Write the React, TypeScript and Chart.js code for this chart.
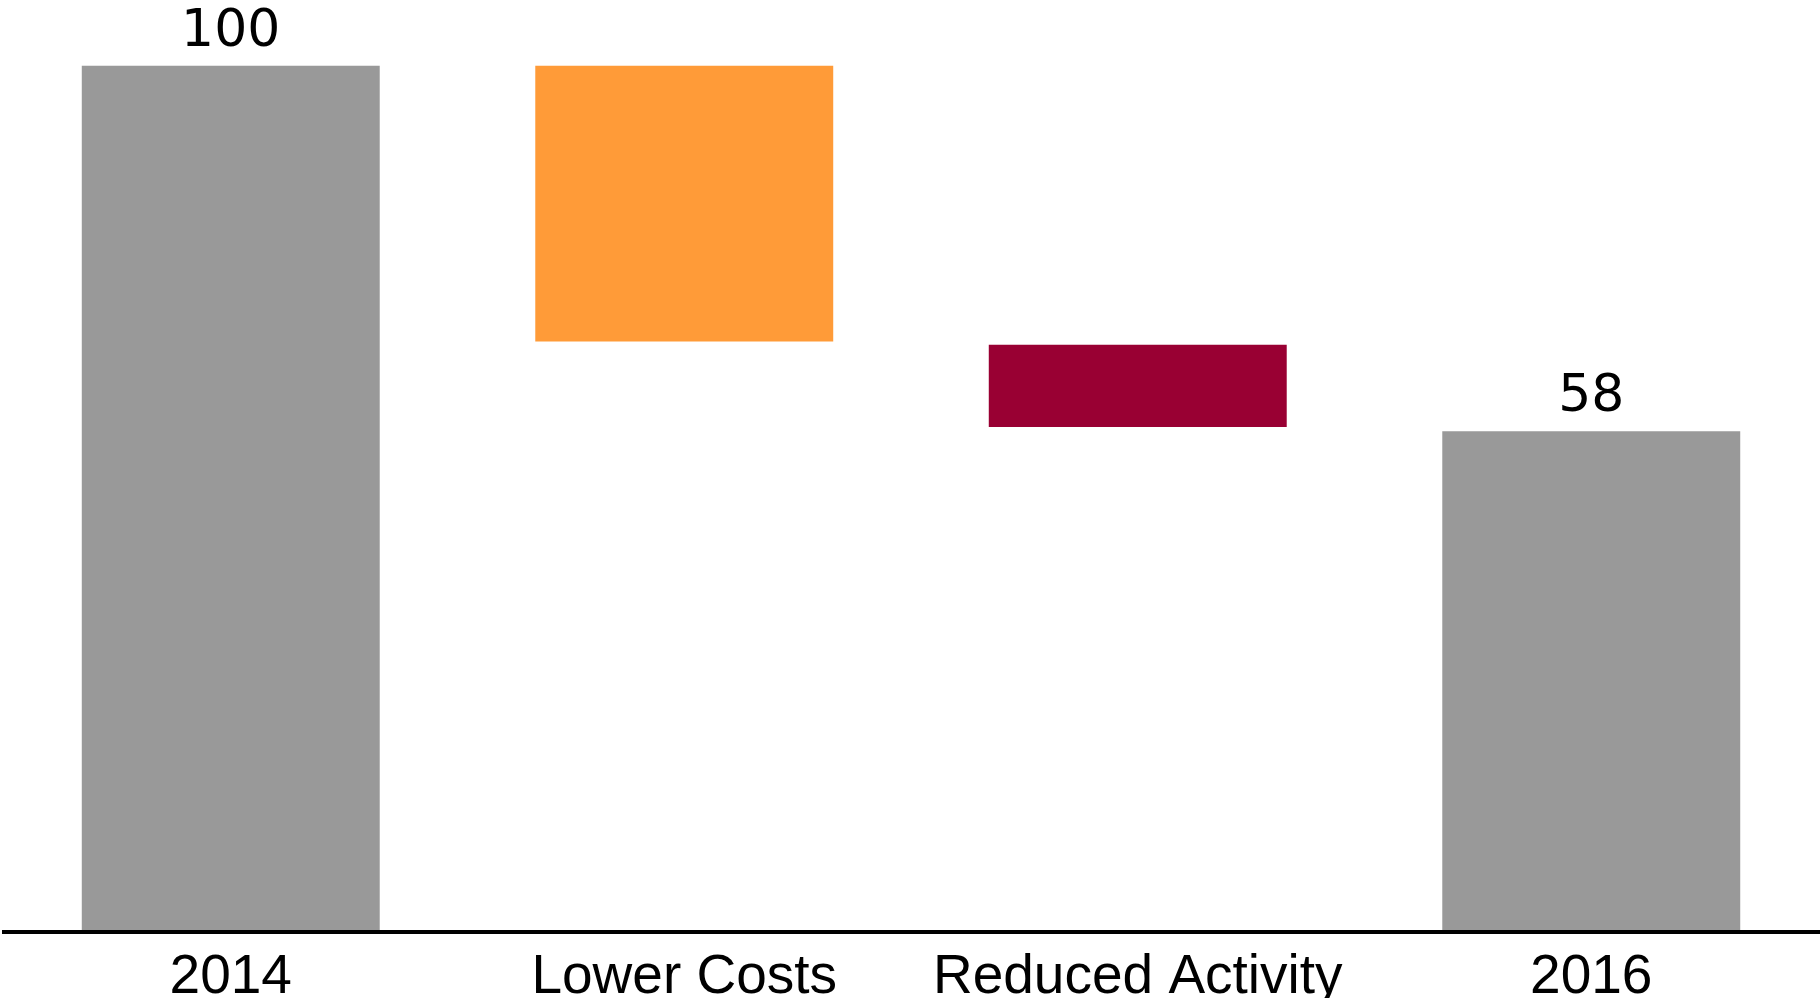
import React, { useEffect, useRef } from "react";
import { Chart, registerables } from "chart.js";

Chart.register(...registerables);

const categories = ["2014", "Lower Costs", "Reduced Activity", "2016"];
const barLows = [0, 68.1, 58.2, 0];
const barHighs = [100, 100, 67.7, 57.7];
const barKinds = ["total", "decrease", "decrease", "total"];
const barColors = ["#999999", "#FF9B38", "#990033", "#999999"];

const W = 1820;
const H = 998;

export default function App() {
  const ref = useRef<HTMLCanvasElement | null>(null);

  useEffect(() => {
    document.body.style.margin = "0";
    const canvas = ref.current;
    if (!canvas) return;

    const overlay = {
      id: "overlay",
      afterDatasetsDraw(chart: any) {
        const ctx = chart.ctx;
        const x = chart.scales.x;
        const y = chart.scales.y;
        ctx.save();
        // baseline axis
        ctx.fillStyle = "#000000";
        ctx.fillRect(2, y.getPixelForValue(0), W - 2, 4);
        // total labels
        ctx.font = "52px 'DejaVu Sans'";
        ctx.textAlign = "center";
        ctx.textBaseline = "alphabetic";
        ctx.fillStyle = "#000000";
        categories.forEach((c, i) => {
          if (barKinds[i] !== "total") return;
          const px = x.getPixelForValue(i);
          const py = y.getPixelForValue(barHighs[i]);
          ctx.fillText(String(Math.round(barHighs[i])), px, py - 20);
        });
        ctx.restore();
      },
    };

    const chart = new Chart(canvas, {
      type: "bar",
      data: {
        labels: categories,
        datasets: [
          {
            data: categories.map((_, i) => [barLows[i], barHighs[i]]) as any,
            backgroundColor: barColors,
            borderWidth: 0,
            barPercentage: 0.657,
            categoryPercentage: 1,
          },
        ],
      },
      options: {
        responsive: false,
        animation: false,
        layout: { padding: { left: 4, right: 2, top: 0, bottom: 0 } },
        plugins: {
          legend: { display: false },
          tooltip: { enabled: false },
        },
        scales: {
          x: {
            grid: { display: false, drawTicks: false },
            border: { display: false },
            ticks: {
              color: "#000000",
              font: { family: "'Liberation Sans', Arial, sans-serif", size: 55 },
              padding: 15,
              maxRotation: 0,
              autoSkip: false,
            },
            afterFit: (s: any) => {
              s.height = 68;
            },
          },
          y: {
            display: false,
            min: 0,
            max: 107.6,
          },
        },
      },
      plugins: [overlay],
    });

    return () => chart.destroy();
  }, []);

  return (
    <div style={{ width: W, height: H }}>
      <canvas ref={ref} width={W} height={H} style={{ display: "block" }} />
    </div>
  );
}
